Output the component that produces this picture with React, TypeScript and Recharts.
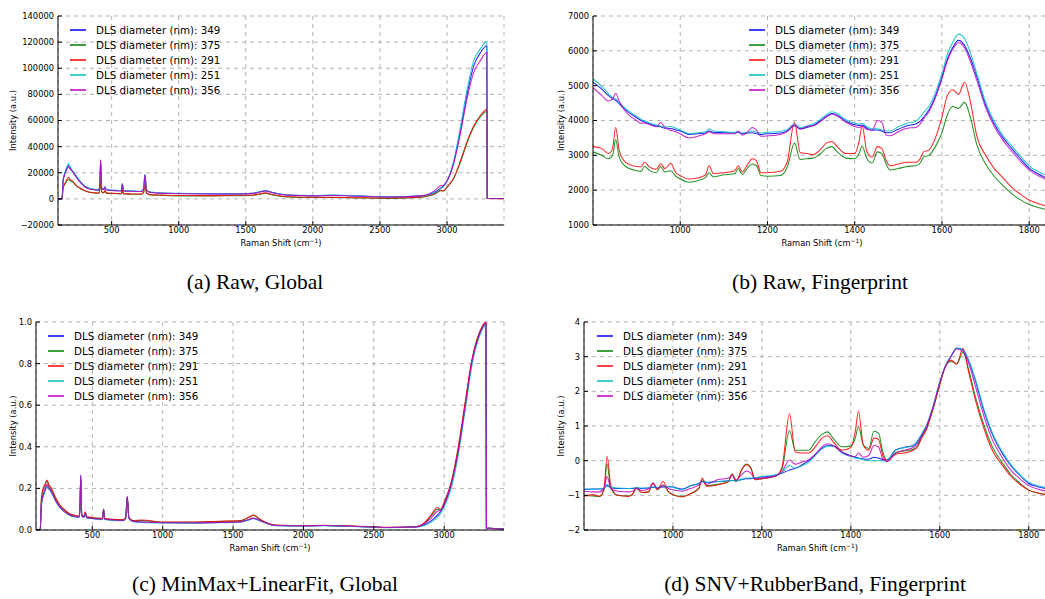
import { CartesianGrid, Line, LineChart, XAxis, YAxis } from "recharts";

const SERIES_NAMES = ["349", "375", "291", "251", "356"];
const SERIES_COLORS = ["#0000ff", "#008000", "#ff0000", "#00bfbf", "#bf00bf"];

// global range, cm-1
const GLOBAL_X = [
  100, 130, 138, 150, 165, 178, 190, 210, 240, 270,
  300, 340, 380, 405, 412, 418, 425, 440, 450, 460,
  500, 565, 573, 580, 588, 650, 720, 738, 748, 760,
  790, 850, 1000, 1200, 1400, 1550, 1600, 1645, 1700, 1800,
  2000, 2150, 2350, 2600, 2800, 2860, 2910, 2950, 2975, 3000,
  3050, 3100, 3150, 3200, 3250, 3297, 3300, 3425,
];

const rawGlobal349 = [
  0, 0, 14000, 19000, 23000, 25500, 23500, 21000, 16500, 12500,
  9500, 7600, 7000, 6800, 12000, 29500, 8500, 7200, 9000, 7000,
  6500, 6200, 6400, 11500, 6200, 5900, 5700, 7500, 18500, 6800,
  5000, 4500, 4100, 3900, 3800, 4200, 5200, 6150, 4800, 3000,
  2400, 2700, 2100, 1500, 2300, 3200, 5200, 8000, 10000, 13500,
  28000, 52000, 80000, 102000, 112000, 117000, 500, 300,
];
const rawGlobal375 = [
  0, 0, 8000, 11000, 13500, 15000, 14000, 12800, 9500, 7600,
  6200, 4800, 4400, 4300, 7500, 20000, 5200, 4500, 6000, 4400,
  4100, 3800, 4000, 7000, 3800, 3600, 3500, 4700, 11000, 4200,
  3000, 2800, 2300, 2200, 2400, 2600, 3500, 4300, 3000, 1500,
  1000, 1100, 700, 400, 1000, 2200, 3800, 6200, 6000, 8700,
  15500, 28000, 43000, 55000, 63000, 67000, 300, 200,
];
const rawGlobal291 = [
  0, 0, 8500, 11500, 14500, 16500, 15000, 13500, 10000, 8000,
  6500, 5000, 4600, 4500, 8000, 22000, 5500, 4800, 6500, 4600,
  4300, 4000, 4200, 7500, 4000, 3800, 3700, 5000, 12000, 4500,
  3200, 3000, 2600, 2500, 2700, 2900, 3800, 4600, 3300, 1800,
  1200, 1300, 900, 600, 1200, 2400, 4000, 6500, 6200, 9000,
  16000, 29000, 44000, 56000, 64000, 68500, 300, 200,
];
const rawGlobal251 = [
  0, 0, 15000, 20000, 24500, 27000, 24500, 21500, 17000, 13000,
  10000, 8000, 7200, 7000, 12500, 30000, 9000, 7500, 9200, 7200,
  6700, 6400, 6600, 11800, 6400, 6100, 5900, 7800, 18800, 7000,
  5200, 4700, 4300, 4000, 3900, 4300, 5400, 6300, 4900, 3100,
  2500, 2900, 2200, 1600, 2200, 3000, 4800, 7500, 9500, 13500,
  29000, 55000, 84000, 106000, 115000, 120500, 500, 300,
];
const rawGlobal356 = [
  0, 0, 13500, 18500, 22500, 24500, 23000, 20500, 16000, 12200,
  9300, 7400, 6900, 6700, 12000, 30000, 8400, 7100, 9000, 6900,
  6400, 6100, 6300, 11300, 6100, 5800, 5600, 7400, 18300, 6700,
  4900, 4400, 4000, 3800, 3700, 4100, 5000, 6000, 4700, 2900,
  2300, 2600, 2000, 1400, 2300, 3600, 6500, 10000, 10500, 13800,
  27000, 50000, 77000, 97000, 106000, 112000, 500, 300,
];

const normGlobal349 = [
  0, 0, 0.12, 0.16, 0.19, 0.21, 0.2, 0.18, 0.14, 0.11,
  0.09, 0.072, 0.065, 0.062, 0.1, 0.26, 0.07, 0.062, 0.08, 0.06,
  0.056, 0.052, 0.055, 0.1, 0.053, 0.048, 0.046, 0.06, 0.16, 0.058,
  0.042, 0.038, 0.036, 0.035, 0.037, 0.04, 0.047, 0.056, 0.043, 0.022,
  0.02, 0.022, 0.018, 0.012, 0.015, 0.025, 0.045, 0.07, 0.09, 0.12,
  0.22, 0.38, 0.6, 0.82, 0.94, 0.99, 0.01, 0.005,
];
const normGlobal375 = [
  0, 0, 0.14, 0.19, 0.215, 0.235, 0.215, 0.195, 0.15, 0.118,
  0.098, 0.076, 0.068, 0.065, 0.1, 0.25, 0.073, 0.065, 0.086, 0.063,
  0.059, 0.055, 0.057, 0.1, 0.055, 0.05, 0.048, 0.063, 0.158, 0.06,
  0.044, 0.046, 0.037, 0.037, 0.041, 0.044, 0.056, 0.07, 0.046, 0.023,
  0.02, 0.022, 0.018, 0.012, 0.016, 0.032, 0.07, 0.1, 0.095, 0.13,
  0.225, 0.39, 0.61, 0.82, 0.945, 0.99, 0.01, 0.005,
];
const normGlobal291 = [
  0, 0, 0.15, 0.2, 0.22, 0.24, 0.22, 0.2, 0.155, 0.12,
  0.1, 0.078, 0.07, 0.066, 0.1, 0.25, 0.075, 0.066, 0.088, 0.064,
  0.06, 0.056, 0.058, 0.1, 0.056, 0.051, 0.049, 0.064, 0.16, 0.06,
  0.045, 0.048, 0.038, 0.038, 0.042, 0.045, 0.058, 0.072, 0.048, 0.024,
  0.021, 0.023, 0.019, 0.013, 0.016, 0.035, 0.075, 0.108, 0.1, 0.135,
  0.23, 0.4, 0.62, 0.83, 0.95, 1.0, 0.01, 0.005,
];
const normGlobal251 = [
  0, 0, 0.12, 0.16, 0.195, 0.215, 0.2, 0.18, 0.138, 0.108,
  0.088, 0.07, 0.063, 0.06, 0.1, 0.26, 0.068, 0.06, 0.078, 0.058,
  0.054, 0.05, 0.053, 0.098, 0.051, 0.046, 0.044, 0.058, 0.155, 0.056,
  0.04, 0.036, 0.034, 0.033, 0.035, 0.037, 0.046, 0.055, 0.041, 0.021,
  0.019, 0.021, 0.017, 0.011, 0.014, 0.022, 0.038, 0.06, 0.08, 0.11,
  0.2, 0.36, 0.58, 0.8, 0.93, 0.985, 0.01, 0.005,
];
const normGlobal356 = [
  0, 0, 0.125, 0.17, 0.2, 0.22, 0.205, 0.185, 0.142, 0.11,
  0.09, 0.072, 0.065, 0.062, 0.1, 0.265, 0.07, 0.062, 0.082, 0.06,
  0.056, 0.052, 0.055, 0.1, 0.053, 0.048, 0.046, 0.06, 0.162, 0.058,
  0.042, 0.038, 0.035, 0.034, 0.036, 0.038, 0.048, 0.057, 0.043, 0.022,
  0.02, 0.022, 0.018, 0.012, 0.015, 0.03, 0.06, 0.09, 0.095, 0.125,
  0.22, 0.38, 0.6, 0.82, 0.94, 0.995, 0.01, 0.005,
];

// fingerprint range, cm-1
const FP_X = [
  800, 820, 835, 845, 852, 860, 875, 900, 910, 918,
  930, 945, 955, 965, 978, 990, 1000, 1020, 1040, 1058,
  1066, 1076, 1100, 1125, 1133, 1142, 1155, 1165, 1175, 1185,
  1200, 1230, 1245, 1262, 1275, 1290, 1305, 1320, 1335, 1348,
  1360, 1380, 1400, 1410, 1417, 1428, 1440, 1452, 1462, 1472,
  1481, 1500, 1520, 1540, 1550, 1558, 1570, 1585, 1600, 1612,
  1625, 1638, 1652, 1665, 1680, 1700, 1720, 1740, 1760, 1780,
  1800, 1820, 1850,
];

const rawFp349 = [
  5100, 4900, 4720, 4620, 4580, 4480, 4300, 4080, 4000, 3960,
  3900, 3840, 3820, 3780, 3770, 3730, 3700, 3600, 3620, 3640,
  3700, 3660, 3650, 3640, 3660, 3620, 3640, 3650, 3620, 3600,
  3620, 3640, 3700, 3850, 3760, 3800, 3860, 3980, 4120, 4200,
  4150, 3980, 3880, 3860, 3870, 3780, 3720, 3730, 3700, 3650,
  3650, 3750, 3850, 3900, 3980, 4100, 4300, 4700, 5250, 5750,
  6100, 6300, 6150, 5800, 5250, 4450, 3900, 3500, 3200, 2900,
  2630, 2470, 2300,
];
const rawFp375 = [
  3100, 3000, 2900, 3000, 3450, 2950, 2680, 2560, 2540, 2680,
  2560, 2500, 2680, 2520, 2560, 2400, 2320, 2230, 2270, 2370,
  2500, 2380, 2440, 2470, 2620, 2450, 2650, 2750, 2700, 2420,
  2400, 2420, 2650, 3350, 2880, 2900, 2920, 3030, 3200, 3250,
  3100, 2920, 2900, 3050, 3270, 2900, 2780, 3100, 3050, 2750,
  2580, 2620, 2680, 2700, 2780, 2950, 3000, 3250, 3650, 4150,
  4400, 4350, 4520, 4100, 3300, 2750, 2400, 2130, 1900, 1720,
  1590, 1500, 1420,
];
const rawFp291 = [
  3250, 3200, 3050, 3200, 3800, 3150, 2800, 2680, 2670, 2800,
  2660, 2600, 2760, 2620, 2770, 2500, 2420, 2320, 2350, 2440,
  2700, 2480, 2500, 2560, 2700, 2520, 2750, 2900, 2840, 2500,
  2500, 2540, 2800, 3950, 3080, 3050, 3020, 3150, 3350, 3400,
  3250, 3050, 3050, 3400, 3850, 3100, 2950, 3250, 3200, 2850,
  2700, 2750, 2800, 2800, 2900, 3100, 3150, 3500, 4100, 4700,
  4880, 4750, 5100, 4550, 3550, 3000, 2620, 2350, 2080, 1880,
  1720, 1620, 1500,
];
const rawFp251 = [
  5200, 4980, 4780, 4660, 4620, 4520, 4340, 4120, 4040, 3990,
  3930, 3870, 3840, 3810, 3830, 3780, 3730, 3620, 3650, 3680,
  3760, 3700, 3680, 3660, 3680, 3640, 3660, 3700, 3660, 3640,
  3660, 3690, 3740, 3900, 3800, 3840, 3900, 4020, 4170, 4250,
  4200, 4020, 3920, 3900, 3920, 3820, 3760, 3760, 3730, 3700,
  3700, 3820, 3920, 3980, 4100, 4230, 4400, 4800, 5350, 5880,
  6250, 6480, 6350, 5950, 5350, 4530, 3970, 3570, 3270, 2970,
  2700, 2540, 2370,
];
const rawFp356 = [
  4950, 4720, 4560, 4620, 4780, 4550, 4250, 4000, 3920, 3930,
  3880, 3820, 3940, 3800, 3720, 3680, 3620, 3500, 3550, 3620,
  3680, 3620, 3620, 3620, 3700, 3580, 3680, 3800, 3720, 3550,
  3560, 3600, 3680, 3880, 3760, 3830, 3850, 3960, 4100, 4180,
  4130, 3950, 3830, 3800, 3840, 3740, 3720, 4000, 3950, 3580,
  3560, 3680, 3780, 3800, 3900, 4050, 4250, 4650, 5200, 5700,
  6050, 6230, 6080, 5700, 5150, 4380, 3830, 3430, 3120, 2830,
  2580, 2420, 2260,
];

const snvFp349 = [
  -0.83, -0.82, -0.82, -0.8, -0.72, -0.78, -0.8, -0.8, -0.8, -0.79,
  -0.8, -0.79, -0.77, -0.78, -0.76, -0.75, -0.76, -0.82, -0.72, -0.66,
  -0.6, -0.63, -0.6, -0.58, -0.57, -0.58, -0.54, -0.52, -0.52, -0.5,
  -0.47, -0.42, -0.36, -0.27, -0.22, -0.12, 0.0, 0.18, 0.36, 0.44,
  0.43, 0.25, 0.14, 0.1, 0.08, 0.05, 0.04, 0.1, 0.08, 0.03,
  0.02, 0.3, 0.38, 0.44, 0.55, 0.72, 1.0, 1.55, 2.25, 2.7,
  3.0, 3.25, 3.2, 2.88, 2.3, 1.4, 0.7, 0.22, -0.15, -0.42,
  -0.66, -0.75, -0.83,
];
const snvFp375 = [
  -1.0, -1.02, -1.03, -0.85, -0.1, -0.78, -1.0, -1.02, -0.95, -0.8,
  -0.92, -0.9, -0.66, -0.84, -0.7, -0.9, -0.98, -1.03, -0.95, -0.8,
  -0.55, -0.72, -0.68, -0.6, -0.38, -0.58, -0.25, -0.1, -0.2, -0.55,
  -0.52, -0.45, -0.25, 0.87, 0.3, 0.3, 0.3, 0.55, 0.76, 0.83,
  0.65, 0.4, 0.42, 0.65, 0.98, 0.45, 0.35, 0.85, 0.8, 0.25,
  0.0, 0.22, 0.28, 0.33, 0.43, 0.65, 0.93, 1.5, 2.2, 2.7,
  2.86, 2.8, 3.12, 2.62, 1.85, 1.0, 0.35, -0.05, -0.4, -0.65,
  -0.85, -0.93, -1.0,
];
const snvFp291 = [
  -1.03, -0.98, -1.03, -0.8, 0.13, -0.7, -1.0, -1.03, -0.95, -0.77,
  -0.92, -0.9, -0.64, -0.83, -0.6, -0.9, -0.98, -1.05, -0.95, -0.8,
  -0.5, -0.74, -0.7, -0.6, -0.4, -0.6, -0.25, -0.12, -0.22, -0.55,
  -0.52, -0.45, -0.2, 1.35, 0.25, 0.22, 0.22, 0.4, 0.65, 0.72,
  0.55, 0.3, 0.38, 0.85, 1.42, 0.45, 0.3, 0.65, 0.62, 0.15,
  -0.02, 0.18, 0.22, 0.3, 0.4, 0.62, 0.9, 1.5, 2.2, 2.7,
  2.9, 2.78, 3.24, 2.55, 1.75, 0.9, 0.25, -0.12, -0.45, -0.68,
  -0.85, -0.93, -0.99,
];
const snvFp251 = [
  -0.82, -0.82, -0.81, -0.79, -0.68, -0.77, -0.79, -0.8, -0.79, -0.78,
  -0.79, -0.79, -0.76, -0.77, -0.73, -0.75, -0.77, -0.84, -0.73, -0.66,
  -0.6, -0.62, -0.6, -0.58, -0.57, -0.59, -0.54, -0.5, -0.5, -0.49,
  -0.46, -0.41, -0.35, -0.14, -0.22, -0.15, -0.05, 0.15, 0.34, 0.42,
  0.42, 0.22, 0.12, 0.08, 0.06, 0.03, 0.0, 0.0, 0.0, 0.0,
  0.0, 0.3, 0.38, 0.42, 0.58, 0.75, 1.02, 1.58, 2.28, 2.72,
  3.02, 3.24, 3.18, 2.9, 2.35, 1.45, 0.75, 0.28, -0.12, -0.4,
  -0.62, -0.72, -0.8,
];
const snvFp356 = [
  -0.88, -0.9, -0.9, -0.8, -0.45, -0.8, -0.88, -0.9, -0.88, -0.8,
  -0.86, -0.82, -0.66, -0.8, -0.72, -0.8, -0.84, -0.88, -0.8, -0.7,
  -0.6, -0.68, -0.55, -0.5, -0.42, -0.55, -0.4, -0.3, -0.36, -0.52,
  -0.5, -0.45, -0.32, 0.02, -0.1, -0.04, 0.02, 0.18, 0.4, 0.49,
  0.44, 0.24, 0.13, 0.12, 0.22, 0.1, 0.15, 0.44, 0.4, 0.05,
  -0.02, 0.22, 0.3, 0.38, 0.5, 0.68, 0.98, 1.55, 2.25, 2.7,
  3.0, 3.22, 3.15, 2.8, 2.15, 1.25, 0.55, 0.1, -0.28, -0.52,
  -0.72, -0.82, -0.9,
];

const GLOBAL_TICKS = [500, 1000, 1500, 2000, 2500, 3000];
const FP_TICKS = [1000, 1200, 1400, 1600, 1800];
const RAW_GLOBAL_Y = [-20000, 0, 20000, 40000, 60000, 80000, 100000, 120000, 140000];
const RAW_FP_Y = [1000, 2000, 3000, 4000, 5000, 6000, 7000];
const NORM_Y = [0, 0.2, 0.4, 0.6, 0.8, 1.0];
const SNV_Y = [-2, -1, 0, 1, 2, 3, 4];

const FONT = '"DejaVu Sans", Verdana, sans-serif';
const TICK_FONT = 8.3;

function buildRows(xs: number[], cols: number[][]) {
  return xs.map((x, i) => {
    const row: Record<string, number> = { x };
    cols.forEach((c, j) => {
      row["s" + SERIES_NAMES[j]] = c[i];
    });
    return row;
  });
}

const minus = (v: number) => String(v).replace("-", "\u2212");

function DlsLegend({ left, top }: { left: number; top: number }) {
  return (
    <div style={{ position: "absolute", left, top, fontFamily: FONT, fontSize: 10.3, color: "#000" }}>
      {SERIES_NAMES.map((n, i) => (
        <div key={n} style={{ display: "flex", alignItems: "center", height: 15.1, whiteSpace: "nowrap" }}>
          <span
            style={{
              display: "inline-block",
              width: 16,
              height: 2,
              background: SERIES_COLORS[i],
              opacity: 0.75,
              marginRight: 10,
            }}
          />
          <span>DLS diameter (nm): {n}</span>
        </div>
      ))}
    </div>
  );
}

interface PanelProps {
  left: number;
  top: number;
  width: number;
  height: number;
  marginTop: number;
  marginRight: number;
  yWidth: number;
  yGap: number;
  data: Record<string, number>[];
  xDomain: [number, number];
  xTicks: number[];
  yDomain: [number, number];
  yTicks: number[];
  yFormat: (v: number) => string;
  legendLeft: number;
  legendTop: number;
}

function Panel(p: PanelProps) {
  const axisStyle = { fontSize: TICK_FONT, fill: "#000", fontFamily: FONT };
  return (
    <div style={{ position: "absolute", left: p.left, top: p.top }}>
      <LineChart
        width={p.width}
        height={p.height}
        data={p.data}
        margin={{ top: p.marginTop, right: p.marginRight, left: 0, bottom: 0 }}
      >
        <CartesianGrid stroke="#b3b3b3" strokeDasharray="4 4" />
        <XAxis
          dataKey="x"
          type="number"
          domain={p.xDomain}
          ticks={p.xTicks}
          interval={0}
          height={25}
          allowDataOverflow
          axisLine={{ stroke: "#000" }}
          tickLine={{ stroke: "#000" }}
          tickSize={-4}
          tickMargin={6}
          tick={axisStyle}
          label={(lp: any) => {
            const vb = lp.viewBox;
            return (
              <text
                x={vb.x + vb.width / 2}
                y={vb.y + 21}
                textAnchor="middle"
                fontSize={TICK_FONT}
                fontFamily={FONT}
                fill="#000"
              >
                Raman Shift (cm
                <tspan dy={-3.5} fontSize={6}>
                  {"\u22121"}
                </tspan>
                <tspan dy={3.5}>)</tspan>
              </text>
            );
          }}
        />
        <XAxis
          xAxisId="top"
          orientation="top"
          dataKey="x"
          type="number"
          domain={p.xDomain}
          ticks={p.xTicks}
          interval={0}
          height={0}
          allowDataOverflow
          axisLine={{ stroke: "#000" }}
          tickLine={{ stroke: "#000" }}
          tickSize={-4}
          tick={false}
        />
        <YAxis
          type="number"
          domain={p.yDomain}
          ticks={p.yTicks}
          interval={0}
          width={p.yWidth}
          allowDataOverflow
          axisLine={{ stroke: "#000" }}
          tickLine={{ stroke: "#000" }}
          tickSize={-4}
          tickMargin={8}
          tick={axisStyle}
          tickFormatter={p.yFormat}
          label={(lp: any) => {
            const vb = lp.viewBox;
            const x = vb.x + vb.width - p.yGap;
            const y = vb.y + vb.height / 2;
            return (
              <text
                x={x}
                y={y}
                transform={`rotate(-90 ${x} ${y})`}
                textAnchor="middle"
                fontSize={TICK_FONT}
                fontFamily={FONT}
                fill="#000"
              >
                Intensity (a.u.)
              </text>
            );
          }}
        />
        <YAxis
          yAxisId="right"
          orientation="right"
          type="number"
          domain={p.yDomain}
          ticks={p.yTicks}
          interval={0}
          width={0}
          allowDataOverflow
          axisLine={{ stroke: "#000" }}
          tickLine={{ stroke: "#000" }}
          tickSize={-4}
          tick={false}
        />
        {SERIES_NAMES.map((n, i) => (
          <Line
            key={n}
            type="monotone"
            dataKey={"s" + n}
            stroke={SERIES_COLORS[i]}
            strokeOpacity={0.85}
            strokeWidth={1.05}
            dot={false}
            activeDot={false}
            isAnimationActive={false}
          />
        ))}
      </LineChart>
      <DlsLegend left={p.legendLeft} top={p.legendTop} />
    </div>
  );
}

function Caption({ cx, cy, text }: { cx: number; cy: number; text: string }) {
  return (
    <div
      style={{
        position: "absolute",
        left: cx - 200,
        top: cy - 12,
        width: 400,
        height: 24,
        lineHeight: "24px",
        textAlign: "center",
        fontFamily: '"Liberation Serif", "Times New Roman", serif',
        fontSize: 21.5,
        color: "#000",
      }}
    >
      {text}
    </div>
  );
}

export default function App() {
  const rawGlobal = buildRows(GLOBAL_X, [rawGlobal349, rawGlobal375, rawGlobal291, rawGlobal251, rawGlobal356]);
  const normGlobal = buildRows(GLOBAL_X, [normGlobal349, normGlobal375, normGlobal291, normGlobal251, normGlobal356]);
  const rawFp = buildRows(FP_X, [rawFp349, rawFp375, rawFp291, rawFp251, rawFp356]);
  const snvFp = buildRows(FP_X, [snvFp349, snvFp375, snvFp291, snvFp251, snvFp356]);

  return (
    <div
      style={{
        position: "absolute",
        left: 0,
        top: 0,
        width: 1045,
        height: 599,
        overflow: "hidden",
        background: "#fff",
      }}
    >
      <Panel
        left={0}
        top={0}
        width={510}
        height={250}
        marginTop={16}
        marginRight={6}
        yWidth={58}
        yGap={42.5}
        data={rawGlobal}
        xDomain={[100, 3425]}
        xTicks={GLOBAL_TICKS}
        yDomain={[-20000, 140000]}
        yTicks={RAW_GLOBAL_Y}
        yFormat={minus}
        legendLeft={70}
        legendTop={22.5}
      />
      <Panel
        left={530}
        top={0}
        width={526}
        height={250}
        marginTop={16}
        marginRight={5}
        yWidth={63}
        yGap={29.3}
        data={rawFp}
        xDomain={[800, 1850]}
        xTicks={FP_TICKS}
        yDomain={[1000, 7000]}
        yTicks={RAW_FP_Y}
        yFormat={minus}
        legendLeft={219}
        legendTop={22.5}
      />
      <Panel
        left={0}
        top={300}
        width={510}
        height={255}
        marginTop={22}
        marginRight={6}
        yWidth={36}
        yGap={20.3}
        data={normGlobal}
        xDomain={[100, 3425]}
        xTicks={GLOBAL_TICKS}
        yDomain={[0, 1]}
        yTicks={NORM_Y}
        yFormat={(v: number) => v.toFixed(1)}
        legendLeft={48}
        legendTop={28.5}
      />
      <Panel
        left={530}
        top={300}
        width={526}
        height={255}
        marginTop={22}
        marginRight={5}
        yWidth={54}
        yGap={20.3}
        data={snvFp}
        xDomain={[800, 1850]}
        xTicks={FP_TICKS}
        yDomain={[-2, 4]}
        yTicks={SNV_Y}
        yFormat={minus}
        legendLeft={67}
        legendTop={28.5}
      />
      <Caption cx={255} cy={282} text="(a) Raw, Global" />
      <Caption cx={820} cy={282} text="(b) Raw, Fingerprint" />
      <Caption cx={265} cy={584} text="(c) MinMax+LinearFit, Global" />
      <Caption cx={815} cy={584} text="(d) SNV+RubberBand, Fingerprint" />
    </div>
  );
}
